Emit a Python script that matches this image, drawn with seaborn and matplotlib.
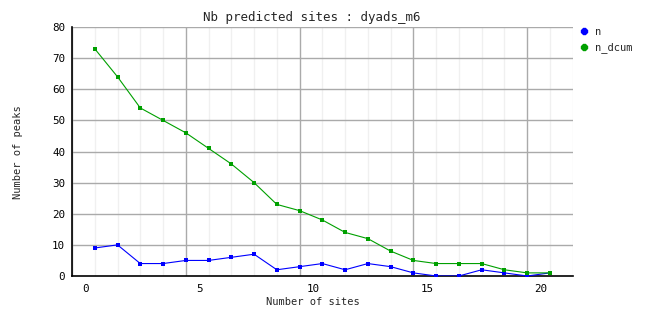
import matplotlib
matplotlib.use("Agg")
import matplotlib.pyplot as plt
import seaborn as sns
import pandas as pd
import numpy as np
from matplotlib.lines import Line2D

sites = list(range(0, 21))
n = [9, 10, 4, 4, 5, 5, 6, 7, 2, 3, 4, 2, 4, 3, 1, 0, 0, 2, 1, 0, 1]
n_dcum = [73, 64, 54, 50, 46, 41, 36, 30, 23, 21, 18, 14, 12, 8, 5, 4, 4, 4, 2, 1, 1]
series_names = ["n", "n_dcum"]
colors = ["#0000ff", "#00a000"]
x_tick_labels = ["0", "5", "10", "15", "20"]
title = "Nb predicted sites : dyads_m6"
xlabel = "Number of sites"
ylabel = "Number of peaks"

sns.set_theme(style="white")
plt.rcParams['font.family'] = ['DejaVu Sans Mono', 'DejaVu Sans']

W, H = 662, 328
fig = plt.figure(figsize=(W / 100, H / 100), dpi=100)
L, R, T, B = 72, 572.7, 27, 276
ax = fig.add_axes([L / W, (H - B) / H, (R - L) / W, (B - T) / H])

df = pd.DataFrame({
    "pos": [s + 1 for s in sites] * 2,
    "value": n + n_dcum,
    "series": ["n"] * len(sites) + ["n_dcum"] * len(sites),
})

# grids
for xv in range(0, 23):
    ax.axvline(xv, color="#aaaaaa" if xv % 5 == 0 else "#f0f0f0", lw=1.0, zorder=0)
for yv in range(10, 81, 10):
    ax.axhline(yv, color="#aaaaaa", lw=1.0, zorder=0)

sns.lineplot(data=df, x="pos", y="value", hue="series", palette=dict(zip(series_names, colors)),
             marker="s", markersize=3.2, markeredgewidth=0, linewidth=0.8, ax=ax, legend=False, zorder=3)

ax.set_xlim(0, 22)
ax.set_ylim(0, 80)
ax.set_xticks([0.6 + 5 * i for i in range(len(x_tick_labels))])
ax.set_xticklabels(x_tick_labels)
ax.set_yticks(range(0, 81, 10))
ax.tick_params(axis="both", length=0, labelsize=7.8, colors="black")
ax.tick_params(axis="x", pad=6)
ax.tick_params(axis="y", pad=5)
ax.set_xlabel("")
ax.set_ylabel("")
for s in ["top", "right"]:
    ax.spines[s].set_visible(False)
for s in ["left", "bottom"]:
    ax.spines[s].set_color("black")
    ax.spines[s].set_linewidth(1.2)

fig.text(312 / W, 1 - 18 / H, title, ha="center", va="center", fontsize=9)
fig.text(313 / W, 1 - 302 / H, xlabel, ha="center", va="center", fontsize=7.5)
fig.text(18 / W, 1 - 152 / H, ylabel, ha="center", va="center", rotation=90, fontsize=7.5)

handles = [Line2D([], [], marker="8", color=c, linestyle="none", markersize=4.5) for c in colors]
fig.legend(handles, series_names, loc="upper left", bbox_to_anchor=(579 / W, 1 - 27 / H),
           frameon=False, fontsize=7.5, handletextpad=0.5, labelspacing=0.5, handlelength=1.0,
           borderaxespad=0, borderpad=0)

fig.savefig("out.png", dpi=100)
